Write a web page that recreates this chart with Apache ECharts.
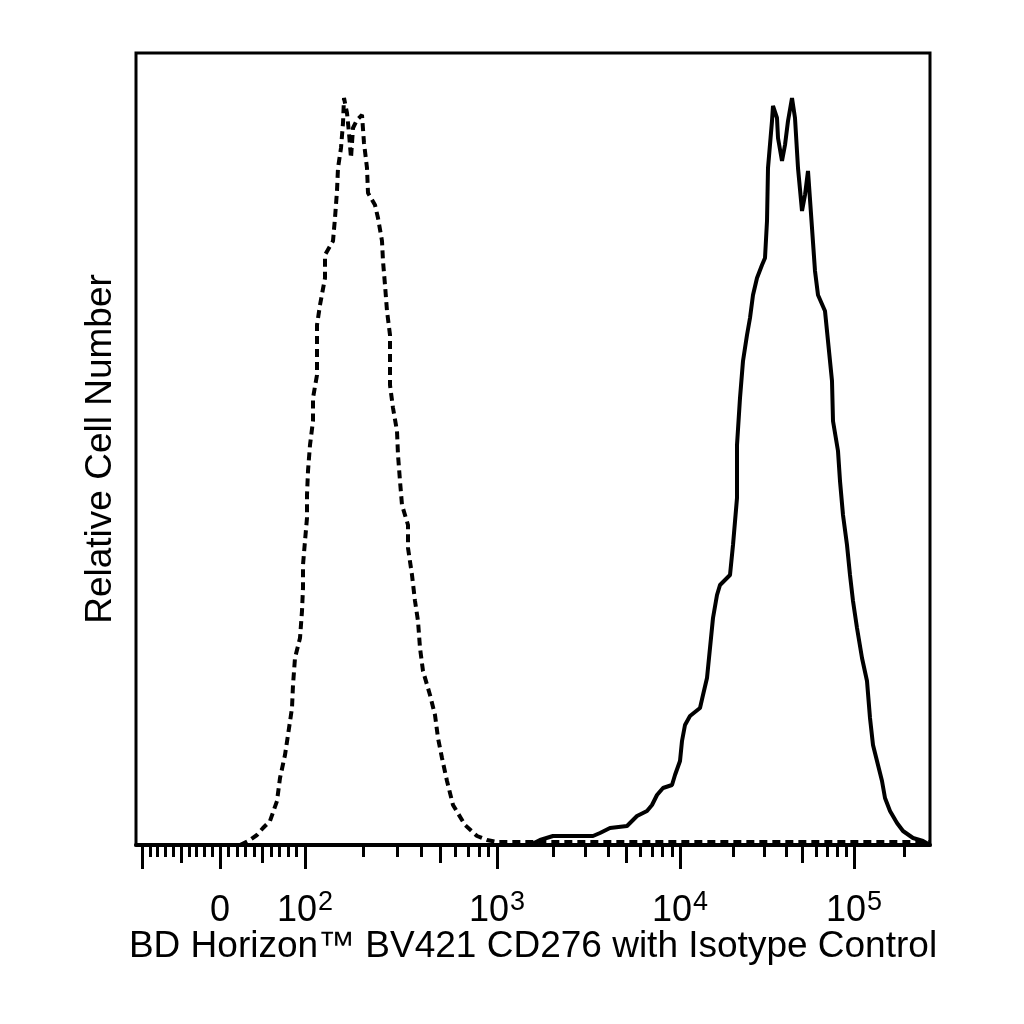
<!DOCTYPE html>
<html>
<head>
<meta charset="utf-8">
<script src="https://cdn.jsdelivr.net/npm/echarts@6/dist/echarts.min.js"></script>
<style>
html,body{margin:0;padding:0;background:#fff;}
#chart{width:1024px;height:1024px;}
</style>
</head>
<body>
<div id="chart"></div>
<script>
// Histogram data: [display channel, event count]
const isotypeChannels = [-84,20,30,37,43,50,57,60,65,68,72,73,75,80,82,83,83,85,87,87,88,90,93,93,97,97,97,100,105,105,113,115,117,118,121,123,124,127,129,131,133,137,142,144,147,148,155,158,162,163,165,167,170,170,170,173,177,178,180,182,188,188,192,195,198,200,203,210,215,218,222,227,233,245,257,267,277,300,710];
const isotypeCounts   = [0,0,5,10,17,24,44,67,90,110,137,160,187,207,234,257,280,304,327,350,374,400,424,447,470,494,520,540,567,590,604,627,654,677,697,722,747,732,712,687,717,725,730,702,677,652,640,627,604,584,560,534,510,484,460,437,414,390,364,340,320,297,270,244,224,197,174,150,130,107,87,64,40,20,9,5,3,3,3];

const cd276Channels = [310,320,333,373,380,390,407,417,427,432,437,443,452,455,460,462,465,470,480,483,487,490,493,497,500,510,513,517,517,520,523,527,530,533,537,542,545,547,548,552,553,557,558,562,565,568,572,575,578,582,585,588,592,595,598,605,608,612,613,618,620,623,627,630,633,637,642,647,650,653,657,662,665,670,677,683,693,703,710];
const cd276Counts   = [0,5,9,9,12,17,19,29,34,40,50,57,60,70,84,104,120,129,137,150,167,197,227,250,260,270,300,347,400,447,484,510,527,550,567,580,587,624,677,724,739,727,707,684,700,724,747,727,677,634,650,674,617,574,550,534,504,464,424,394,364,330,300,270,244,217,187,164,127,100,84,64,47,34,22,14,7,4,0];

// Axis tick values (fluorescence intensity)
const majorTicks  = [-100, 0, 100, 1000, 10000, 100000];
const tickLabels  = ['', '0', '10^2', '10^3', '10^4', '10^5'];
const mediumTicks = [-50, 50, 500, 5000, 50000];
const minorTicks  = [-90,-80,-70,-60,-40,-30,-20,-10,10,20,30,40,60,70,80,90,
                     200,300,400,600,700,800,900,2000,3000,4000,6000,7000,8000,9000,
                     20000,30000,40000,60000,70000,80000,90000,200000];

const xTitle = 'BD Horizon™ BV421 CD276 with Isotype Control';
const yTitle = 'Relative Cell Number';

// biexponential-like display transform: intensity -> channel
function T(v) {
  if (v < 0) return 0.78 * v;
  if (v <= 100) return 0.85 * v;
  const L = Math.log10(v / 100);
  return 85 + 196.5 * L - 4.5 * L * L;
}

const FONT = '"Liberation Sans", Arial, Helvetica, sans-serif';
const X_MIN = -84, X_MAX = 710;

const labelVals = [];
const labelText = {};
majorTicks.forEach((v, i) => {
  if (tickLabels[i] !== '') {
    const t = T(v);
    labelVals.push(t);
    const parts = tickLabels[i].split('^');
    labelText[t.toFixed(4)] = parts.length > 1 ? '{b|' + parts[0] + '}{sup|' + parts[1] + '}' : '{b|' + parts[0] + '}';
  }
});

function xAxisBase(ticks, len, extra) {
  return Object.assign({
    type: 'value', min: X_MIN, max: X_MAX, position: 'bottom', offset: 0,
    splitLine: {show: false},
    axisLine: {show: false},
    axisTick: {show: true, customValues: ticks.map(T), length: len, lineStyle: {color: '#000', width: 3}},
    axisLabel: {show: false}
  }, extra || {});
}

const chart = echarts.init(document.getElementById('chart'), null, {renderer: 'canvas'});
chart.setOption({
  animation: false,
  backgroundColor: '#fff',
  grid: {left: 136, right: 94, top: 53, bottom: 179, show: true, borderColor: '#000', borderWidth: 3, backgroundColor: 'transparent'},
  xAxis: [
    xAxisBase(majorTicks, 24, {
      axisLine: {show: true, onZero: false, lineStyle: {color: '#000', width: 4}},
      axisLabel: {
        show: true, customValues: labelVals, margin: 44,
        formatter: function (val) { return labelText[val.toFixed(4)] || ''; },
        rich: {
          b: {fontSize: 36, fontFamily: FONT, color: '#000', lineHeight: 40, padding: [10, 0, 0, 0], verticalAlign: 'bottom'},
          sup: {fontSize: 27, fontFamily: FONT, color: '#000', lineHeight: 30, verticalAlign: 'top', padding: [0, 0, 0, 1]}
        }
      },
      name: xTitle, nameLocation: 'middle', nameGap: 83, nameMoveOverlap: false,
      nameTextStyle: {fontSize: 37, fontFamily: FONT, color: '#000'}
    }),
    xAxisBase(mediumTicks, 18),
    xAxisBase(minorTicks, 12)
  ],
  yAxis: {
    type: 'value', min: 0, max: 792,
    axisLine: {show: false}, axisTick: {show: false}, axisLabel: {show: false}, splitLine: {show: false},
    name: yTitle, nameLocation: 'middle', nameGap: 17,
    nameTextStyle: {fontSize: 37, fontFamily: FONT, color: '#000'}
  },
  series: [
    {
      type: 'line', name: 'Isotype', xAxisIndex: 0, showSymbol: false, symbol: 'none',
      data: isotypeChannels.map((c, i) => [c, isotypeCounts[i]]),
      lineStyle: {color: '#000', width: 4, type: [8, 5]}, z: 2
    },
    {
      type: 'line', name: 'CD276', xAxisIndex: 0, showSymbol: false, symbol: 'none',
      data: cd276Channels.map((c, i) => [c, cd276Counts[i]]),
      lineStyle: {color: '#000', width: 4}, z: 3
    }
  ]
});
</script>
</body>
</html>
